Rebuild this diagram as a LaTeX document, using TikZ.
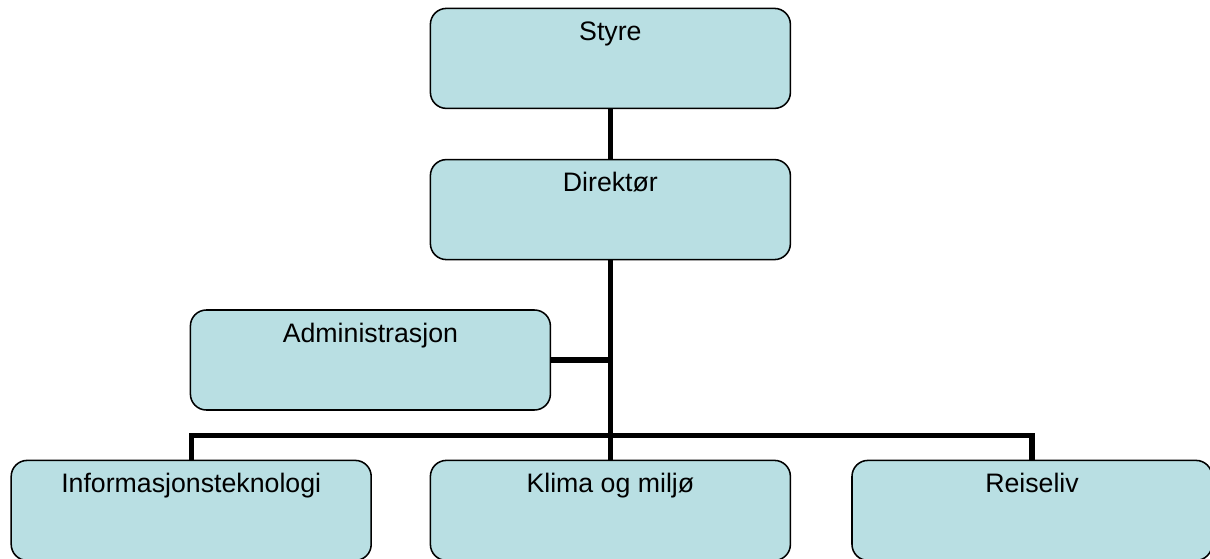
\documentclass[tikz,border=0pt]{standalone}
\usepackage{fontspec}
\setmainfont{Liberation Sans}
\usepackage{tikz}
\usetikzlibrary{shapes,arrows,backgrounds,positioning,fit}
\definecolor{boxblue}{RGB}{185,223,227}

\begin{document}
\begin{tikzpicture}
				\tikzstyle{Unit} 	= [draw, fill=boxblue, rounded corners=0.4cm, line width=1.1pt, minimum width=9cm, inner xsep=0pt, inner ysep=0pt, text height=0.8cm, text depth=1.7cm, font=\fontsize{19}{22}\selectfont]
				\tikzstyle{Link}	= [line width=3.6pt]
				
				\useasboundingbox (0,0) rectangle (30.25,-13.975);
				
				\node (styre) at (15.26,-1.46) [Unit] {Styre};
				
				\node (dir) at (15.26,-5.24) [Unit] {Direktør};
				
				\node (adm) at (9.26,-9.0) [Unit] {Administrasjon};
				
				\node (info) at (4.78,-12.76) [Unit] {Informasjonsteknologi};
				
				\node (klima) at (15.26,-12.76) [Unit] {Klima og miljø};
				
				\node (reise) at (25.8,-12.76) [Unit] {Reiseliv};
				
				\coordinate (bar) at (15.26,-10.89);
				
				\draw [Link] (styre) -- (dir);
				\draw [Link] (dir) -- (bar);
				\draw [Link] (adm) -- (adm -| bar);
				\draw [Link] (info.north) |- (bar);
				\draw [Link] (bar) -| (reise.north);
				\draw [Link] (bar) -- (klima);
			\end{tikzpicture}
\end{document}
